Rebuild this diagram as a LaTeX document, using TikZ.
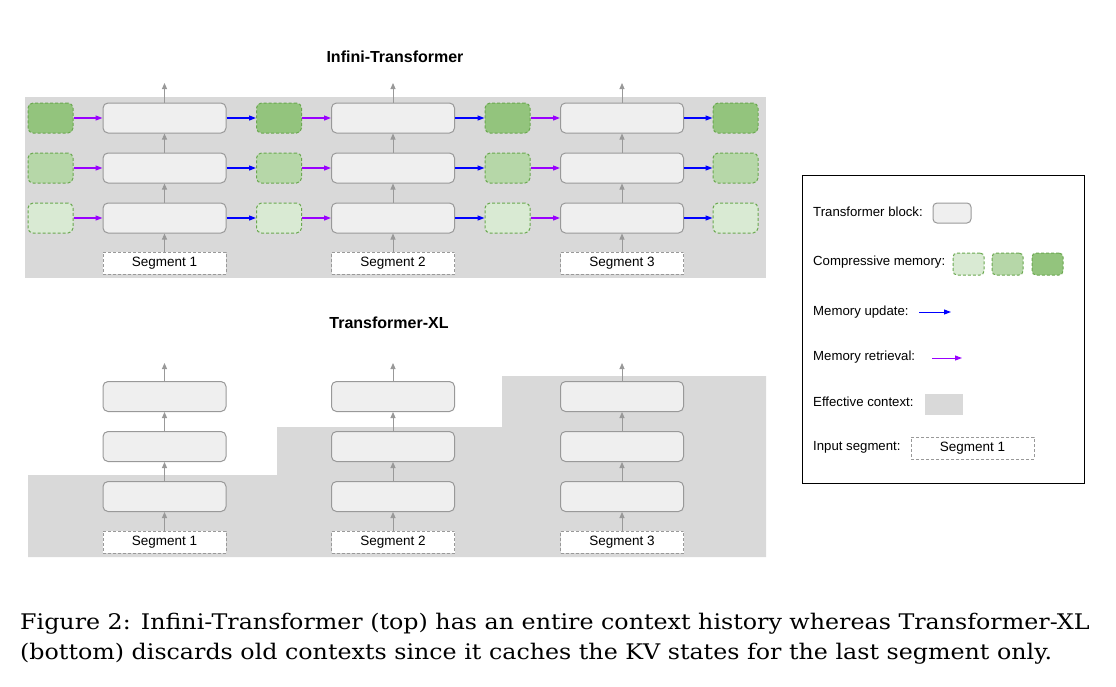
\documentclass[tikz,border=0pt]{standalone}
\usepackage{fontspec}
\setsansfont{Liberation Sans}
\newfontfamily\capfont[FakeStretch=1.105]{DejaVu Serif}
\usetikzlibrary{arrows.meta}
\definecolor{ctxgray}{HTML}{D9D9D9}
\definecolor{blkfill}{HTML}{EFEFEF}
\definecolor{blkborder}{HTML}{999999}
\definecolor{memborder}{HTML}{6AA84F}
\definecolor{mlight}{HTML}{D9EAD3}
\definecolor{mmed}{HTML}{B6D7A8}
\definecolor{mdark}{HTML}{93C47D}
\definecolor{updblue}{HTML}{0000FF}
\definecolor{retpurple}{HTML}{9900FF}
\definecolor{arrgray}{HTML}{999999}
\tikzset{
  blk/.style={draw=blkborder, fill=blkfill, rounded corners=5pt, minimum width=123pt, minimum height=30pt, inner sep=0pt, line width=1pt},
  mem/.style={draw=memborder, dash pattern=on 3pt off 2pt, rounded corners=5pt, minimum width=45pt, minimum height=30pt, inner sep=0pt, line width=1pt},
  seg/.style={draw=blkborder, fill=white, dash pattern=on 3pt off 2pt, minimum width=123pt, minimum height=22pt, inner sep=0pt, line width=1pt, font=\sffamily\fontsize{13.5}{15}\selectfont},
  uparr/.style={draw=arrgray, line width=1pt, -{Triangle[length=6pt,width=5pt]}},
  upd/.style={draw=updblue, line width=1.2pt, -{Triangle[length=7pt,width=5pt]}},
  ret/.style={draw=retpurple, line width=1.2pt, -{Triangle[length=7pt,width=5pt]}},
  ttl/.style={font=\sffamily\bfseries\fontsize{16}{18}\selectfont, anchor=base},
  lgd/.style={font=\sffamily\fontsize{13.2}{15}\selectfont, anchor=west, inner sep=0pt},
  capline/.style={font=\capfont\fontsize{21.5}{30}\selectfont, anchor=base west, inner sep=0pt},
}
\begin{document}
\begin{tikzpicture}[x=1pt,y=-1pt]
\useasboundingbox (0,0) rectangle (1116,686);
% ---------- top: Infini-Transformer ----------
\node[ttl] (title1) at (395,62) {Infini-Transformer};
\fill[ctxgray] (25,97) rectangle (766,278);
\foreach \c/\x in {1/164.5,2/393,3/622} {
  \node[blk] (tb\c1) at (\x,118) {};
  \node[blk] (tb\c2) at (\x,168) {};
  \node[blk] (tb\c3) at (\x,218) {};
  \node[seg] (ts\c) at (\x,263) {Segment \c};
  \coordinate (tout\c) at (\x,83);
  \draw[uparr] (ts\c) -- (tb\c3);
  \draw[uparr] (tb\c3) -- (tb\c2);
  \draw[uparr] (tb\c2) -- (tb\c1);
  \draw[uparr] (tb\c1) -- (tout\c);
}
\foreach \m/\x in {0/50.5,1/279,2/507.5,3/735.5} {
  \node[mem, fill=mdark] (tm\m1) at (\x,118) {};
  \node[mem, fill=mmed] (tm\m2) at (\x,168) {};
  \node[mem, fill=mlight] (tm\m3) at (\x,218) {};
}
\foreach \c/\p in {1/0,2/1,3/2} {
  \foreach \r in {1,2,3} {
    \draw[ret] (tm\p\r.east) -- (tb\c\r.west);
    \draw[upd] (tb\c\r.east) -- (tm\c\r.west);
  }
}
% ---------- bottom: Transformer-XL ----------
\node[ttl] (title2) at (389,328) {Transformer-XL};
\fill[ctxgray] (28,475) -- (277,475) -- (277,427) -- (502,427) -- (502,376) -- (766,376) -- (766,557) -- (28,557) -- cycle;
\foreach \c/\x in {1/164.5,2/393,3/622} {
  \node[blk] (xb\c1) at (\x,396.5) {};
  \node[blk] (xb\c2) at (\x,446.5) {};
  \node[blk] (xb\c3) at (\x,496.5) {};
  \node[seg] (xs\c) at (\x,542) {Segment \c};
  \coordinate (xout\c) at (\x,363);
  \draw[uparr] (xs\c) -- (xb\c3);
  \draw[uparr] (xb\c3) -- (xb\c2);
  \draw[uparr] (xb\c2) -- (xb\c1);
  \draw[uparr] (xb\c1) -- (xout\c);
}
% ---------- legend ----------
\node[draw=black, line width=1pt, minimum width=282pt, minimum height=308pt, inner sep=0pt] (legend) at (943,329) {};
\node[lgd] (l1) at (813,212) {Transformer block:};
\node[blk, minimum width=38pt, minimum height=20pt, rounded corners=4pt] (l1b) at (952,213) {};
\node[lgd] (l2) at (813,262) {Compressive memory:};
\node[mem, fill=mlight, minimum width=31pt, minimum height=22pt, rounded corners=4pt] (l2a) at (968.5,264) {};
\node[mem, fill=mmed, minimum width=31pt, minimum height=22pt, rounded corners=4pt] (l2b) at (1007.5,264) {};
\node[mem, fill=mdark, minimum width=31pt, minimum height=22pt, rounded corners=4pt] (l2c) at (1047.5,264) {};
\node[lgd] (l3) at (813,312) {Memory update:};
\coordinate (l3s) at (919,312);
\coordinate (l3e) at (951,312);
\draw[upd, line width=1pt] (l3s) -- (l3e);
\node[lgd] (l4) at (813,357) {Memory retrieval:};
\coordinate (l4s) at (932,358);
\coordinate (l4e) at (962,358);
\draw[ret, line width=1pt] (l4s) -- (l4e);
\node[lgd] (l5) at (813,402) {Effective context:};
\node[fill=ctxgray, minimum width=38pt, minimum height=21pt, inner sep=0pt] (l5b) at (944,404.5) {};
\node[lgd] (l6) at (813,447) {Input segment:};
\node[seg] (l6b) at (972.5,448) {Segment 1};
% ---------- caption ----------
\node[capline] (cap1) at (20,629) {Figure 2: Infini-Transformer (top) has an entire context history whereas Transformer-XL};
\node[capline] (cap2) at (20,659) {(bottom) discards old contexts since it caches the KV states for the last segment only.};
\end{tikzpicture}
\end{document}
